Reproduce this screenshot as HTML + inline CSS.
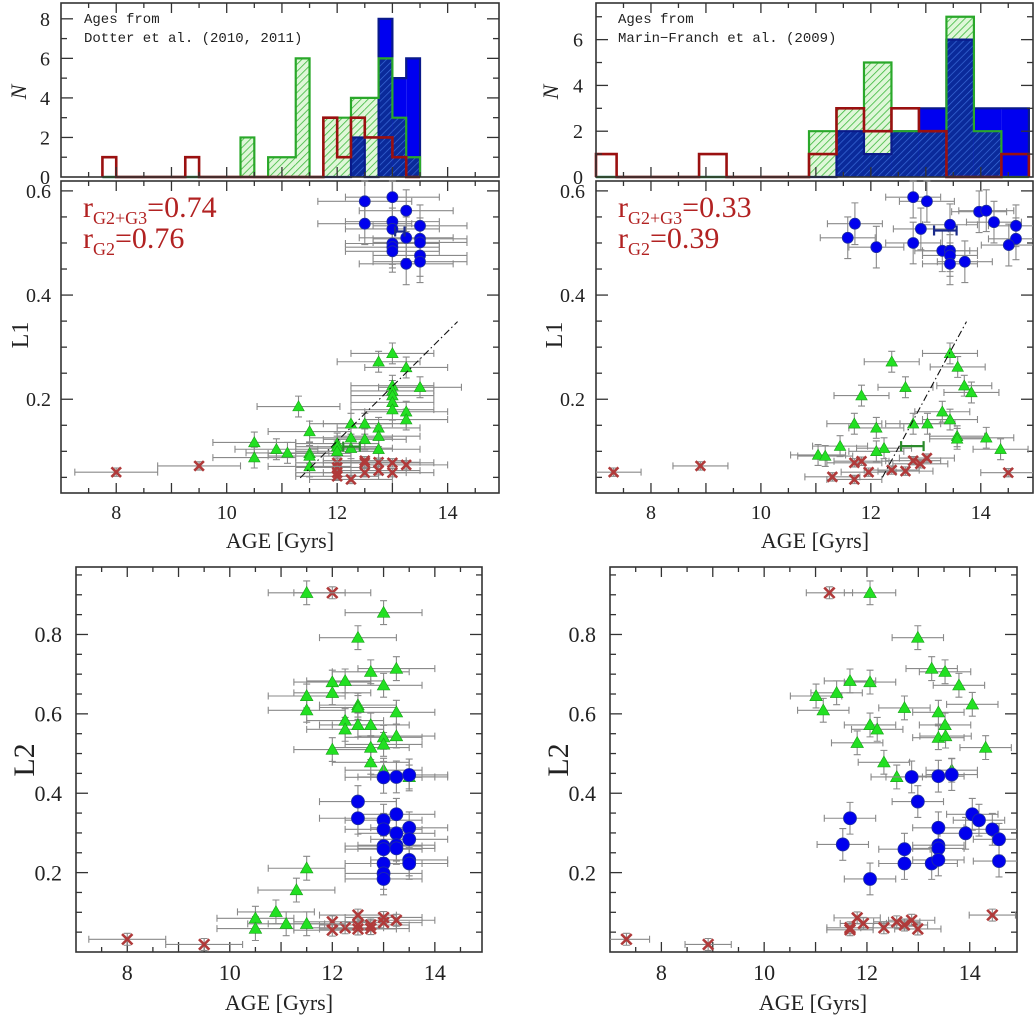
<!DOCTYPE html>
<html><head><meta charset="utf-8"><style>
html,body{margin:0;padding:0;background:#fff;}
svg{display:block;}
text{font-family:"Liberation Serif",serif;fill:#222;}
.mono{font-family:"Liberation Mono",monospace;}
</style></head><body>
<svg id="fig" width="1036" height="1017" viewBox="0 0 1036 1017" xmlns="http://www.w3.org/2000/svg">
<defs>
<pattern id="hatchG" patternUnits="userSpaceOnUse" width="5" height="5" patternTransform="rotate(45)">
<rect width="5" height="5" fill="#dff7d8"/><line x1="0" y1="0" x2="0" y2="5" stroke="#3cb83c" stroke-width="1.6"/></pattern>
<pattern id="hatchB" patternUnits="userSpaceOnUse" width="5" height="5" patternTransform="rotate(45)">
<rect width="5" height="5" fill="#0a2a9a"/><line x1="0" y1="0" x2="0" y2="5" stroke="#3a6ad8" stroke-width="1.4"/></pattern>
</defs>
</svg>
<script>
// ---------- Histogram data ----------
const histLeftStart = 7.75, histLeftBin = 0.25;
const histLeftRed   = [1,0,0,0,0,0,1,0,0,0,0,0,0,0,0,0,3,1,3,2,2,1,0];
const histLeftGreen = [0,0,0,0,0,0,0,0,0,0,2,0,1,1,6,0,3,3,4,4,6,3,1];
const histLeftBlue  = [0,0,0,0,0,0,0,0,0,0,0,0,0,0,0,0,0,0,2,0,8,5,6];
const histRightStart = 6.875, histRightBin = 0.5;
const histRightRed   = [1,0,0,0,1,0,0,0,1,3,2,3,2,0,0,1];
const histRightGreen = [0,0,0,0,0,0,0,0,2,3,5,2,2,7,2,0];
const histRightBlue  = [0,0,0,0,0,0,0,0,0,2,1,2,3,6,3,3];
const histLeftTicks = [0,2,4,6,8];
const histRightTicks = [0,2,4,6];
const xTickLabels = [8,10,12,14];
const l1TickLabels = [0.2,0.4,0.6];
const l2TickLabels = [0.2,0.4,0.6,0.8];

// ---------- L1 (Dotter) ----------
const l1LeftBlueAge = [12.5,13.0,13.25,12.5,13.0,13.0,13.5,13.25,13.5,13.5,13.0,13.0,13.0,13.5,13.5,13.25];
const l1LeftBlueL1  = [0.58,0.588,0.562,0.537,0.541,0.527,0.533,0.51,0.508,0.501,0.499,0.492,0.484,0.476,0.464,0.46];
const l1LeftGreenAge = [13.0,12.75,13.25,13.5,13.0,13.0,13.0,13.0,11.3,13.0,13.25,13.25,12.25,12.5,12.75,11.5,12.75,12.25,12.5,10.5,12.0,12.0,10.9,12.25,12.75,12.0,11.1,11.5,11.5,10.5,11.5];
const l1LeftGreenL1  = [0.288,0.272,0.261,0.223,0.226,0.216,0.207,0.194,0.186,0.18,0.176,0.161,0.153,0.153,0.145,0.138,0.129,0.126,0.123,0.117,0.115,0.109,0.104,0.106,0.104,0.1,0.097,0.096,0.091,0.088,0.071];
const l1LeftRedAge = [8.0,9.5,12.0,12.0,12.0,12.0,12.25,12.5,12.5,12.5,12.75,12.75,13.0,13.0,13.25];
const l1LeftRedL1  = [0.06,0.072,0.078,0.069,0.059,0.052,0.046,0.082,0.078,0.059,0.079,0.063,0.078,0.059,0.074];
const l1LeftFit = [11.33,0.049,14.18,0.349]; // [age0,L1_0,age1,L1_1]
const l1LeftMeanBlue = [13.05,13.22,0.522];
const l1LeftMeanGreen = [12.11,12.41,0.109];

// ---------- L1 (Marin-Franch) ----------
const l1RightBlueAge = [11.71,11.58,12.1,12.77,13.02,12.91,12.77,13.44,13.3,13.44,13.44,13.44,13.71,13.97,14.1,14.24,14.64,14.64,14.51];
const l1RightBlueL1  = [0.537,0.51,0.492,0.588,0.58,0.527,0.5,0.535,0.485,0.485,0.476,0.46,0.464,0.56,0.562,0.54,0.533,0.508,0.496];
const l1RightGreenAge = [13.44,12.38,13.58,13.7,12.63,11.83,13.83,13.3,13.44,11.7,12.1,12.77,13.03,13.57,13.57,14.1,11.44,12.24,12.1,14.36,11.04,11.17];
const l1RightGreenL1  = [0.288,0.272,0.262,0.226,0.223,0.207,0.213,0.176,0.161,0.153,0.145,0.153,0.153,0.129,0.124,0.126,0.11,0.106,0.1,0.104,0.093,0.091];
const l1RightRedAge = [7.32,8.9,11.7,11.83,13.02,12.77,12.9,12.38,11.96,12.63,11.3,11.7,14.5];
const l1RightRedL1  = [0.06,0.072,0.078,0.081,0.087,0.082,0.076,0.064,0.06,0.062,0.051,0.046,0.059];
const l1RightFit = [12.21,0.05,13.74,0.349];
const l1RightMeanBlue = [13.15,13.56,0.524];
const l1RightMeanGreen = [12.55,12.96,0.11];

// ---------- L2 (Dotter) ----------
const l2LeftGreenAge = [11.5,13.0,12.5,13.25,12.75,12.0,12.25,13.0,12.0,11.5,12.5,12.5,11.5,13.25,12.25,12.5,12.75,12.25,13.0,13.0,13.25,12.75,12.0,12.75,13.0,13.5,11.5,11.3,10.9,10.5,11.1,11.5,10.5];
const l2LeftGreenL2  = [0.905,0.855,0.792,0.714,0.706,0.68,0.683,0.672,0.653,0.645,0.622,0.616,0.609,0.604,0.583,0.572,0.572,0.561,0.541,0.523,0.544,0.515,0.51,0.478,0.458,0.441,0.211,0.156,0.101,0.085,0.071,0.071,0.059];
const l2LeftBlueAge = [13.0,13.25,13.5,12.5,12.5,13.25,13.0,13.0,13.25,13.5,13.5,13.0,13.0,13.25,13.25,13.5,13.5,13.0,13.0,13.0];
const l2LeftBlueL2  = [0.44,0.441,0.446,0.379,0.337,0.347,0.332,0.309,0.299,0.313,0.284,0.267,0.259,0.269,0.261,0.232,0.223,0.223,0.198,0.184];
const l2LeftRedAge = [12.0,8.0,9.5,12.0,12.0,12.25,12.5,12.5,12.5,12.75,12.75,13.0,13.0,13.25];
const l2LeftRedL2  = [0.905,0.032,0.019,0.076,0.055,0.061,0.093,0.068,0.058,0.068,0.059,0.087,0.074,0.08];

// ---------- L2 (Marin-Franch) ----------
const l2RightGreenAge = [12.06,12.99,13.26,13.52,11.67,12.06,13.79,11.01,11.41,11.15,12.73,14.05,13.39,12.06,12.2,13.52,13.39,13.53,11.81,14.31,12.33,13.65,12.58];
const l2RightGreenL2  = [0.905,0.792,0.714,0.706,0.683,0.68,0.672,0.645,0.653,0.609,0.615,0.624,0.604,0.572,0.561,0.572,0.54,0.544,0.527,0.515,0.478,0.458,0.441];
const l2RightBlueAge = [12.87,13.39,13.65,12.99,11.67,14.05,14.18,13.39,13.92,14.44,14.57,11.53,12.73,13.39,13.39,12.73,13.26,13.39,14.57,12.06];
const l2RightBlueL2  = [0.441,0.443,0.447,0.379,0.337,0.347,0.332,0.313,0.299,0.309,0.284,0.271,0.259,0.269,0.261,0.223,0.223,0.232,0.229,0.184];
const l2RightRedAge = [11.27,7.32,8.91,11.81,11.93,11.67,11.67,12.33,12.58,12.73,12.87,12.99,14.44];
const l2RightRedL2  = [0.905,0.032,0.019,0.086,0.072,0.061,0.056,0.061,0.076,0.068,0.08,0.058,0.093];

// ---------- drawing ----------
const NS = "http://www.w3.org/2000/svg";
const svg = document.getElementById('fig');
function mk(tag, attrs, parent){
  const e = document.createElementNS(NS, tag);
  for (const k in attrs) e.setAttribute(k, attrs[k]);
  (parent||svg).appendChild(e);
  return e;
}
function scale(d0,d1,r0,r1){ return v => r0 + (v-d0)/(d1-d0)*(r1-r0); }

function frameAndTicks(g, P, yMajor, yMinorStep, yLabels, yFmt, showX, labelSize, yLabX){
  const fr = mk('rect',{x:P.x0,y:P.y0,width:P.x1-P.x0,height:P.y1-P.y0,fill:'none',stroke:'#333','stroke-width':1.6},g);
  
  
  // x ticks
  for (let v=7; v<=15.001; v+=0.5){
    const x = P.sx(v); if (x<P.x0+1||x>P.x1-1) continue;
    const L = Math.abs(v-Math.round(v))<1e-6 ? 10 : 5;
    mk('line',{x1:x,y1:P.y1,x2:x,y2:P.y1-L,stroke:'#333','stroke-width':1.3},g);
    mk('line',{x1:x,y1:P.y0,x2:x,y2:P.y0+L,stroke:'#333','stroke-width':1.3},g);
  }
  // y ticks
  const lo = P.dy0, hi = P.dy1;
  for (let v=Math.ceil(lo/yMinorStep-1e-6)*yMinorStep; v<=hi+1e-9; v+=yMinorStep){
    const y = P.sy(v); if (y<P.y0+0.5||y>P.y1-0.5) continue;
    const isMaj = yMajor.some(m=>Math.abs(m-v)<1e-6);
    const L = isMaj?12:6;
    mk('line',{x1:P.x0,y1:y,x2:P.x0+L,y2:y,stroke:'#333','stroke-width':1.3},g);
    mk('line',{x1:P.x1,y1:y,x2:P.x1-L,y2:y,stroke:'#333','stroke-width':1.3},g);
  }
  yLabels.forEach(v=>{
    const t = mk('text',{x:yLabX,y:P.sy(v)+labelSize*0.35,'text-anchor':'end','font-size':labelSize},g);
    t.textContent = yFmt(v);
    
    
  });
  if (showX){
    xTickLabels.forEach(v=>{
      const t = mk('text',{x:P.sx(v),y:P.y1+showX.dy,'text-anchor':'middle','font-size':showX.size},g);
      t.textContent = v;
      
      
    });
  }
}

function stepPath(P, start, bw, counts){
  let d = '';
  const n = counts.length;
  const cx = v=>Math.max(P.x0, Math.min(P.x1, P.sx(v)));
  d += 'M'+cx(start)+','+P.sy(0);
  for (let i=0;i<n;i++){
    const a = cx(start+i*bw), b = cx(start+(i+1)*bw), y = P.sy(counts[i]);
    d += ' L'+a+','+y+' L'+b+','+y;
  }
  d += ' L'+cx(start+n*bw)+','+P.sy(0);
  return d;
}
function drawHist(g, P, start, bw, red, green, blue){
  const cx = v=>Math.max(P.x0, Math.min(P.x1, P.sx(v)));
  green.forEach((c,i)=>{ if(!c) return;
    const r = mk('rect',{x:cx(start+i*bw),y:P.sy(c),width:cx(start+(i+1)*bw)-cx(start+i*bw),height:P.sy(0)-P.sy(c),fill:'url(#hatchG)'},g);
    
    
  });
  blue.forEach((c,i)=>{ if(!c) return;
    const r = mk('rect',{x:cx(start+i*bw),y:P.sy(c),width:cx(start+(i+1)*bw)-cx(start+i*bw),height:P.sy(0)-P.sy(c),fill:'#0000f0'},g);
    
    
    const m = Math.min(c, green[i]||0);
    if (m>0) mk('rect',{x:cx(start+i*bw),y:P.sy(m),width:cx(start+(i+1)*bw)-cx(start+i*bw),height:P.sy(0)-P.sy(m),fill:'url(#hatchB)'},g);
  });
  const pb = mk('path',{d:stepPath(P,start,bw,blue),fill:'none',stroke:'#0a1a8a','stroke-width':2.2},g);
  
  
  const pg = mk('path',{d:stepPath(P,start,bw,green),fill:'none',stroke:'#2aa82a','stroke-width':2.2},g);
  
  
  const pr = mk('path',{d:stepPath(P,start,bw,red),fill:'none',stroke:'#9a1010','stroke-width':2.6},g);
  
  
}

function errBar(g,P,x,y,ex,ey){
  const X=P.sx(x),Y=P.sy(y);
  const xa=Math.max(P.x0,P.sx(x-ex)), xb=Math.min(P.x1,P.sx(x+ex));
  const ya=Math.max(P.y0,P.sy(y+ey)), yb=Math.min(P.y1,P.sy(y-ey));
  const st={stroke:'#8a8a8a','stroke-width':1.1,fill:'none'};
  mk('path',Object.assign({d:`M${xa},${Y}H${xb}M${X},${ya}V${yb}`+
    (P.sx(x-ex)>P.x0?`M${xa},${Y-3.5}V${Y+3.5}`:'')+(P.sx(x+ex)<P.x1?`M${xb},${Y-3.5}V${Y+3.5}`:'')+
    `M${X-3.5},${ya}H${X+3.5}M${X-3.5},${yb}H${X+3.5}`},st),g);
}
function drawSeries(g,P,ages,vals,kind,ex,ey,r){
  ages.forEach((a,i)=>errBar(g,P,a,vals[i],ex,ey));
  ages.forEach((a,i)=>{
    const X=P.sx(a),Y=P.sy(vals[i]);
    let e;
    if (kind==='blue'){
      e = mk('circle',{cx:X,cy:Y,r:r,fill:'#0000ee',stroke:'#2030a0','stroke-width':0.8},g);
      
    } else if (kind==='green'){
      const s=r*1.05;
      e = mk('polygon',{points:`${X},${Y-s} ${X-s},${Y+s*0.75} ${X+s},${Y+s*0.75}`,fill:'#22e022',stroke:'#18a018','stroke-width':0.6},g);
      
    } else {
      const s=r*0.8;
      e = mk('path',{d:`M${X-s},${Y-s}L${X+s},${Y+s}M${X-s},${Y+s}L${X+s},${Y-s}`,stroke:'#b03a3a','stroke-width':2.6,fill:'none'},g);
      
    }
    
  });
}
function meanBar(g,P,m,color){
  const a=P.sx(m[0]),b=P.sx(m[1]),y=P.sy(m[2]);
  const p = mk('path',{d:`M${a},${y}H${b}M${a},${y-5}V${y+5}M${b},${y-5}V${y+5}`,stroke:color,'stroke-width':2.2,fill:'none'},g);
  
  
}
function fitLine(g,P,f){
  const l = mk('line',{x1:P.sx(f[0]),y1:P.sy(f[1]),x2:P.sx(f[2]),y2:P.sy(f[3]),stroke:'#111','stroke-width':1.1,'stroke-dasharray':'7,3,1.5,3'},g);
  
  
}
function label(g,txt,x,y,size,name,rot,extra){
  const t = mk('text',Object.assign({x:x,y:y,'font-size':size,'text-anchor':'middle'},extra||{}),g);
  if (rot) t.setAttribute('transform',`rotate(-90 ${x} ${y})`);
  t.textContent = txt;
  
  
  return t;
}
function rLabel(g,x,y,sub,val){
  const t = mk('text',{x:x,y:y,'font-size':30,style:'fill:#b22222'},g);
  
  
  t.appendChild(document.createTextNode('r'));
  const ts = mk('tspan',{'font-size':18,dy:7},t); ts.textContent=sub; ts.setAttribute('style','fill:#b22222');
  const tv = mk('tspan',{dy:-7},t); tv.textContent='='+val; tv.setAttribute('style','fill:#b22222');
}

function panel(name,x0,x1,y0,y1,dy0,dy1){
  const g = mk('g',{});
  
  
  return {g, P:{x0,x1,y0,y1,dy0,dy1,sx:scale(7,15,x0,x0+(x1-x0)/0.9913*1.0*8/8*1), sy:scale(dy0,dy1,y1,y0)}};
}
function mkP(name,x0,x1,y0,y1,ax0,ax1,dy0,dy1){
  const g = mk('g',{});
  
  
  return {g,P:{x0,x1,y0,y1,dy0,dy1,sx:scale(ax0,ax1,x0,x1),sy:scale(dy0,dy1,y1,y0)}};
}

// ---- Left column ----
let A = mkP('histogram-dotter',61,499,3,177,7,14.93,0,8.8);
drawHist(A.g,A.P,histLeftStart,histLeftBin,histLeftRed,histLeftGreen,histLeftBlue);
frameAndTicks(A.g,A.P,histLeftTicks,1,histLeftTicks,v=>v,null,20,50);
label(A.g,'N',26,92,22,'y-axis-title-n',true,{'font-style':'italic'});
label(A.g,'Ages from',84,23,14,'annotation',false,{'text-anchor':'start',class:'mono'});
label(A.g,'Dotter et al. (2010, 2011)',84,42,14,'annotation',false,{'text-anchor':'start',class:'mono'});

let B = mkP('scatter-l1-dotter',61,499,181,493,7,14.93,0.02,0.619);
frameAndTicks(B.g,B.P,l1TickLabels,0.05,l1TickLabels,v=>v.toFixed(1),{dy:26,size:20},20,51);
drawSeries(B.g,B.P,l1LeftRedAge,l1LeftRedL1,'red',0.75,0.008,6);
drawSeries(B.g,B.P,l1LeftGreenAge,l1LeftGreenL1,'green',0.75,0.02,5.5);
drawSeries(B.g,B.P,l1LeftBlueAge,l1LeftBlueL1,'blue',0.85,0.04,5.5);
fitLine(B.g,B.P,l1LeftFit);
meanBar(B.g,B.P,l1LeftMeanBlue,'#1a2a8a');
meanBar(B.g,B.P,l1LeftMeanGreen,'#2a8a2a');
rLabel(B.g,83,217,'G2+G3','0.74');
rLabel(B.g,83,248,'G2','0.76');
label(B.g,'L1',28,335,24,'y-axis-title-l1',true);
label(B.g,'AGE [Gyrs]',280,548,22,'x-axis-title');

let C = mkP('scatter-l2-dotter',76,482,567,952,7,14.92,0.0,0.97);
frameAndTicks(C.g,C.P,l2TickLabels,0.05,l2TickLabels,v=>v.toFixed(1),{dy:28,size:22},22,62);
drawSeries(C.g,C.P,l2LeftRedAge,l2LeftRedL2,'red',0.75,0.015,6.5);
drawSeries(C.g,C.P,l2LeftGreenAge,l2LeftGreenL2,'green',0.75,0.03,6);
drawSeries(C.g,C.P,l2LeftBlueAge,l2LeftBlueL2,'blue',0.75,0.04,6.5);
label(C.g,'L2',34,760,30,'y-axis-title-l2',true);
label(C.g,'AGE [Gyrs]',279,1010,22,'x-axis-title');

// ---- Right column ----
let D = mkP('histogram-marin-franch',596,1033,3,177,7,14.95,0,7.6);
drawHist(D.g,D.P,histRightStart,histRightBin,histRightRed,histRightGreen,histRightBlue);
frameAndTicks(D.g,D.P,histRightTicks,1,histRightTicks,v=>v,null,20,583);
label(D.g,'N',558,92,22,'y-axis-title-n',true,{'font-style':'italic'});
label(D.g,'Ages from',618,23,14,'annotation',false,{'text-anchor':'start',class:'mono'});
label(D.g,'Marin\u2212Franch et al. (2009)',618,42,14,'annotation',false,{'text-anchor':'start',class:'mono'});

let E = mkP('scatter-l1-marin-franch',596,1033,181,493,7,14.95,0.02,0.619);
frameAndTicks(E.g,E.P,l1TickLabels,0.05,l1TickLabels,v=>v.toFixed(1),{dy:26,size:20},20,585);
drawSeries(E.g,E.P,l1RightRedAge,l1RightRedL1,'red',0.5,0.008,6);
drawSeries(E.g,E.P,l1RightGreenAge,l1RightGreenL1,'green',0.5,0.02,5.5);
drawSeries(E.g,E.P,l1RightBlueAge,l1RightBlueL1,'blue',0.5,0.04,5.5);
fitLine(E.g,E.P,l1RightFit);
meanBar(E.g,E.P,l1RightMeanBlue,'#1a2a8a');
meanBar(E.g,E.P,l1RightMeanGreen,'#2a8a2a');
rLabel(E.g,618,217,'G2+G3','0.33');
rLabel(E.g,618,248,'G2','0.39');
label(E.g,'L1',562,335,24,'y-axis-title-l1',true);
label(E.g,'AGE [Gyrs]',815,548,22,'x-axis-title');

let F = mkP('scatter-l2-marin-franch',610,1017,567,952,7,14.92,0.0,0.97);
frameAndTicks(F.g,F.P,l2TickLabels,0.05,l2TickLabels,v=>v.toFixed(1),{dy:28,size:22},22,596);
drawSeries(F.g,F.P,l2RightRedAge,l2RightRedL2,'red',0.45,0.015,6.5);
drawSeries(F.g,F.P,l2RightGreenAge,l2RightGreenL2,'green',0.5,0.03,6);
drawSeries(F.g,F.P,l2RightBlueAge,l2RightBlueL2,'blue',0.5,0.04,6.5);
label(F.g,'L2',568,760,30,'y-axis-title-l2',true);
label(F.g,'AGE [Gyrs]',813,1010,22,'x-axis-title');
</script>
</body></html>
